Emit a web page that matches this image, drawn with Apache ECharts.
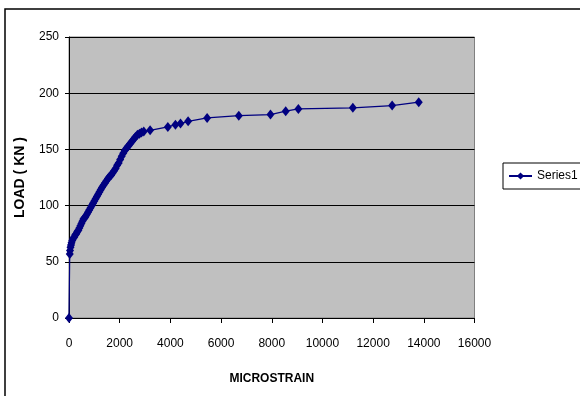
<!DOCTYPE html>
<html>
<head>
<meta charset="utf-8">
<script src="https://cdn.jsdelivr.net/npm/echarts@6/dist/echarts.min.js"></script>
<style>
  html, body { margin: 0; padding: 0; background: #fff; }
  #chart { width: 580px; height: 396px; }
</style>
</head>
<body>
<div id="chart"></div>
<script>
  // strain readings (microstrain) and matching load (kN)
  var strain = [0, 30, 40, 60, 80, 100, 130, 170, 210, 250, 290, 330, 370, 410, 450, 490, 530, 570, 610, 650,
    700, 750, 800, 850, 900, 950, 1000, 1050, 1100, 1150, 1200, 1250, 1300, 1360, 1420, 1480, 1540, 1600,
    1660, 1720, 1780, 1840, 1900, 1960, 2020, 2080, 2140, 2200, 2270, 2340, 2410, 2480, 2550, 2620, 2700,
    2780, 2860, 2950, 3200, 3900, 4200, 4400, 4700, 5450, 6700, 7950, 8550, 9050, 11200, 12750, 13800];
  var load = [0, 57, 60, 63, 65, 67, 69, 71, 72, 74, 75, 77, 78, 80, 82, 84, 86, 88, 89, 90,
    92, 94, 96, 98, 100, 102, 104, 106, 108, 110, 112, 114, 116, 118, 120, 122, 124, 126,
    127, 129, 131, 133, 136, 138, 141, 144, 146.5, 149, 151, 153, 155, 157, 159, 161, 163,
    164, 165, 166, 167, 170, 172, 173, 175, 178, 180, 181, 184, 186, 187, 189, 192];
  var seriesName = 'Series1';

  var pts = strain.map(function (s, i) { return [s, load[i]]; });

  var chart = echarts.init(document.getElementById('chart'));
  var option = {
    animation: false,
    textStyle: { fontFamily: 'Liberation Sans, Arial, sans-serif' },
    graphic: [{
      type: 'rect',
      shape: { x: 5, y: 9, width: 620, height: 420 },
      style: { fill: 'none', stroke: '#000', lineWidth: 1.5 },
      silent: true
    }],
    grid: {
      left: 69, top: 37, right: 105.5, bottom: 78,
      outerBoundsMode: 'none',
      show: true,
      backgroundColor: '#c0c0c0',
      borderColor: '#808080',
      borderWidth: 1
    },
    legend: {
      left: 503, top: 163,
      padding: [7, 40, 7, 5],
      borderColor: '#000', borderWidth: 1,
      itemWidth: 23, itemHeight: 9,
      data: [seriesName],
      textStyle: { fontSize: 12, color: '#000' }
    },
    xAxis: {
      type: 'value', min: 0, max: 16000, interval: 2000,
      name: 'MICROSTRAIN', nameLocation: 'middle', nameGap: 55,
      nameTextStyle: { fontWeight: 'bold', fontSize: 12, color: '#000' },
      axisLine: { show: true, onZero: false, lineStyle: { color: '#000', width: 1 } },
      axisTick: { show: true, length: 5, lineStyle: { color: '#000' } },
      axisLabel: { color: '#000', fontSize: 12, margin: 20, formatter: function (v) { return String(v); } },
      splitLine: { show: false }
    },
    yAxis: {
      type: 'value', min: 0, max: 250, interval: 50,
      name: 'LOAD ( KN )', nameLocation: 'middle', nameGap: 42, nameRotate: 90,
      nameTextStyle: { fontWeight: 'bold', fontSize: 14, color: '#000' },
      axisLine: { show: true, lineStyle: { color: '#000', width: 1 } },
      axisTick: { show: true, length: 4, lineStyle: { color: '#000' } },
      axisLabel: { color: '#000', fontSize: 12, margin: 10 },
      splitLine: { show: true, lineStyle: { color: '#000', width: 1 } }
    },
    series: [{
      name: seriesName,
      type: 'line',
      data: pts,
      symbol: 'diamond',
      symbolSize: [8, 10],
      showAllSymbol: true,
      lineStyle: { color: '#000080', width: 1.2 },
      itemStyle: { color: '#000080', borderWidth: 0 }
    }]
  };
  chart.setOption(option);
</script>
</body>
</html>
